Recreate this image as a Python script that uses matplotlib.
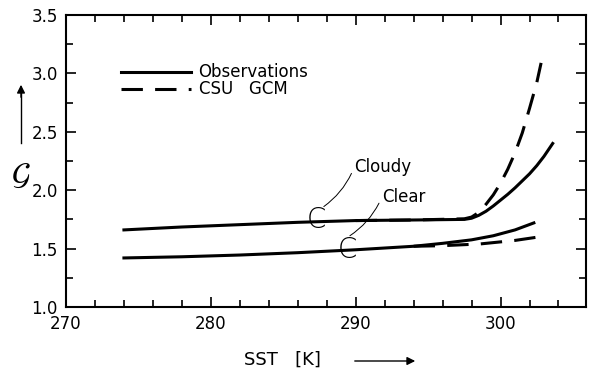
import numpy as np
import matplotlib.pyplot as plt
from matplotlib.ticker import MultipleLocator

# Curvas (SST em K, G adimensional)
sst_cloudy_obs = [274, 278, 282, 286, 290, 294, 297.5, 298, 298.5, 299, 299.5, 300, 300.5,
                  301, 301.5, 302, 302.5, 303, 303.6]
g_cloudy_obs = [1.66, 1.685, 1.705, 1.725, 1.74, 1.745, 1.75, 1.76, 1.785, 1.82, 1.865, 1.915,
                1.965, 2.02, 2.08, 2.14, 2.21, 2.29, 2.40]

sst_cloudy_gcm = [290, 294, 297.5, 298, 298.5, 299, 299.5, 300, 300.5, 301, 301.5, 302, 302.5, 302.8]
g_cloudy_gcm = [1.74, 1.745, 1.755, 1.77, 1.81, 1.88, 1.96, 2.06, 2.18, 2.32, 2.49, 2.70, 2.92, 3.09]

sst_clear_obs = [274, 278, 282, 286, 290, 294, 296, 298, 299.5, 301, 302.3]
g_clear_obs = [1.42, 1.43, 1.445, 1.465, 1.49, 1.52, 1.545, 1.575, 1.61, 1.66, 1.72]

sst_clear_gcm = [294, 296, 298.6, 301, 303.2]
g_clear_gcm = [1.52, 1.525, 1.54, 1.57, 1.61]

plt.rcParams['font.family'] = 'DejaVu Sans'
fig = plt.figure(figsize=(5.93, 3.77), dpi=100)
ax = fig.add_axes([66/593, 1 - 307/377, 520/593, 292/377])

lw = 2.2
ax.plot(sst_cloudy_obs, g_cloudy_obs, color='black', lw=lw)
ax.plot(sst_cloudy_gcm, g_cloudy_gcm, color='black', lw=lw, dashes=(7, 4))
ax.plot(sst_clear_obs, g_clear_obs, color='black', lw=lw)
ax.plot(sst_clear_gcm, g_clear_gcm, color='black', lw=lw, dashes=(7, 4))

ax.set_xlim(270, 305.9)
ax.set_ylim(1.0, 3.5)
ax.set_xticks([270, 280, 290, 300])
ax.set_yticks([1.0, 1.5, 2.0, 2.5, 3.0, 3.5])
ax.xaxis.set_minor_locator(MultipleLocator(2))
ax.yaxis.set_minor_locator(MultipleLocator(0.25))
ax.tick_params(which='both', direction='in', top=True, right=True,
               labeltop=False, labelright=False, labelsize=12, width=1.2)
ax.tick_params(which='major', length=7, pad=6)
ax.tick_params(which='minor', length=5)
for s in ax.spines.values():
    s.set_linewidth(1.5)

# legenda
leg_x = [0.105, 0.24]
ax.plot(leg_x, [0.806, 0.806], transform=ax.transAxes, color='black', lw=lw)
ax.plot(leg_x, [0.745, 0.745], transform=ax.transAxes, color='black', lw=lw, dashes=(7, 4))
ax.text(0.255, 0.806, 'Observations', transform=ax.transAxes, fontsize=12, va='center')
ax.text(0.255, 0.745, 'CSU   GCM', transform=ax.transAxes, fontsize=12, va='center')

# marcadores C e rótulos
ax.text(287.3, 1.745, 'C', fontsize=20, fontweight='light', ha='center', va='center')
ax.text(289.4, 1.49, 'C', fontsize=20, fontweight='light', ha='center', va='center')
ax.annotate('Cloudy', xy=(287.8, 1.86), xytext=(289.9, 2.20), fontsize=12,
            va='center', ha='left',
            arrowprops=dict(arrowstyle='-', lw=0.7, connectionstyle='arc3,rad=-0.15',
                            shrinkA=0, shrinkB=0, relpos=(0, 0.5)))
ax.annotate('Clear', xy=(289.6, 1.61), xytext=(291.8, 1.94), fontsize=12,
            va='center', ha='left',
            arrowprops=dict(arrowstyle='-', lw=0.7, connectionstyle='arc3,rad=-0.15',
                            shrinkA=0, shrinkB=0, relpos=(0, 0.5)))

# rótulos dos eixos com setas
fig.text(21/593, 1 - 175/377, r'$\mathcal{G}$', fontsize=22, ha='center', va='center')
fig.add_artist(plt.Line2D([21/593, 21/593], [1 - 143/377, 1 - 90/377], color='black', lw=1))
ax.annotate('', xy=(21/593, 1 - 82/377), xytext=(21/593, 1 - 100/377),
            xycoords='figure fraction', textcoords='figure fraction',
            arrowprops=dict(arrowstyle='-|>', lw=1, color='black', mutation_scale=12))
fig.text(244/593, 1 - 360/377, 'SST   [K]', fontsize=13, ha='left', va='center')
ax.annotate('', xy=(418/593, 1 - 361/377), xytext=(352/593, 1 - 361/377),
            xycoords='figure fraction', textcoords='figure fraction',
            arrowprops=dict(arrowstyle='-|>', lw=1, color='black', mutation_scale=12))

plt.savefig('out.png')
